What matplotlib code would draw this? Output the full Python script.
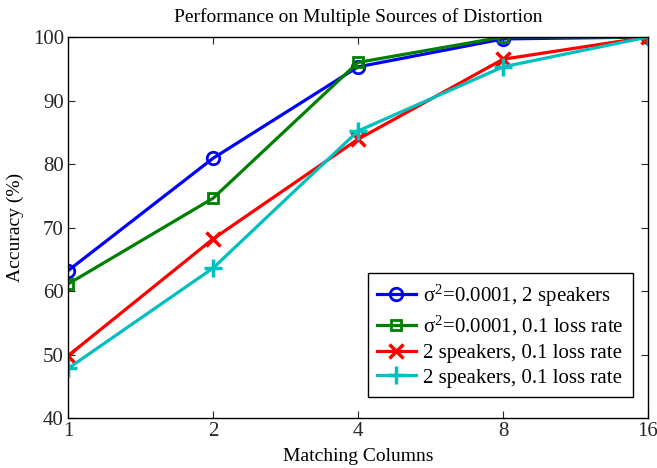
import matplotlib
matplotlib.use("Agg")
import matplotlib.pyplot as plt

x_labels = ["1", "2", "4", "8", "16"]
blue = [63.2, 80.9, 95.3, 99.7, 100.0]
green = [61.1, 74.6, 96.0, 100.0, 100.0]
red = [49.8, 68.2, 83.9, 96.5, 100.0]
cyan = [47.8, 63.6, 85.2, 95.3, 100.0]
labels = [r"σ$^2$=0.0001, 2 speakers", r"σ$^2$=0.0001, 0.1 loss rate",
          "2 speakers, 0.1 loss rate", "2 speakers, 0.1 loss rate"]

plt.rcParams['font.family'] = ['Liberation Serif', 'DejaVu Serif']
plt.rcParams['mathtext.fontset'] = 'custom'
plt.rcParams['mathtext.rm'] = 'Liberation Serif'
plt.rcParams['mathtext.it'] = 'Liberation Serif'

fig = plt.figure(figsize=(6.57, 4.68), dpi=100)
ax = fig.add_axes([0.1035, 0.1068, 0.8828, 0.8141])
xs = list(range(len(x_labels)))
ax.plot(xs, blue, color='#0000ff', lw=2.3, marker='o', ms=9, mfc='none', mew=2, label=labels[0])
ax.plot(xs, green, color='#008000', lw=2.3, marker='s', ms=7, mfc='none', mew=2, label=labels[1])
ax.plot(xs, red, color='#ff0000', lw=2.3, marker='x', ms=10, mew=2.5, label=labels[2])
ax.plot(xs, cyan, color='#00bfbf', lw=2.3, marker='+', ms=13, mew=2.5, label=labels[3])

ax.set_xlim(0, len(x_labels) - 1)
ax.set_ylim(40, 100)
ax.set_xticks(xs)
ax.set_xticklabels(x_labels)
ax.set_yticks(range(40, 101, 10))
ax.tick_params(direction='in', top=True, right=True, labelsize=15, length=5, pad=3, colors='#262626')
for s in ax.spines.values():
    s.set_linewidth(1.0)
ax.set_xlabel("Matching Columns", fontsize=14, labelpad=5)
ax.set_ylabel("Accuracy (%)", fontsize=14, labelpad=6)
ax.set_title("Performance on Multiple Sources of Distortion", fontsize=14, pad=11)
leg = ax.legend(loc='lower right', bbox_to_anchor=(0.974, 0.055), fontsize=15, fancybox=False,
                framealpha=1, edgecolor='black', handlelength=1.85, handletextpad=0.35,
                borderpad=0.45, labelspacing=0.25, borderaxespad=0)
leg.get_frame().set_linewidth(1.0)
fig.savefig("out.png", dpi=100)
